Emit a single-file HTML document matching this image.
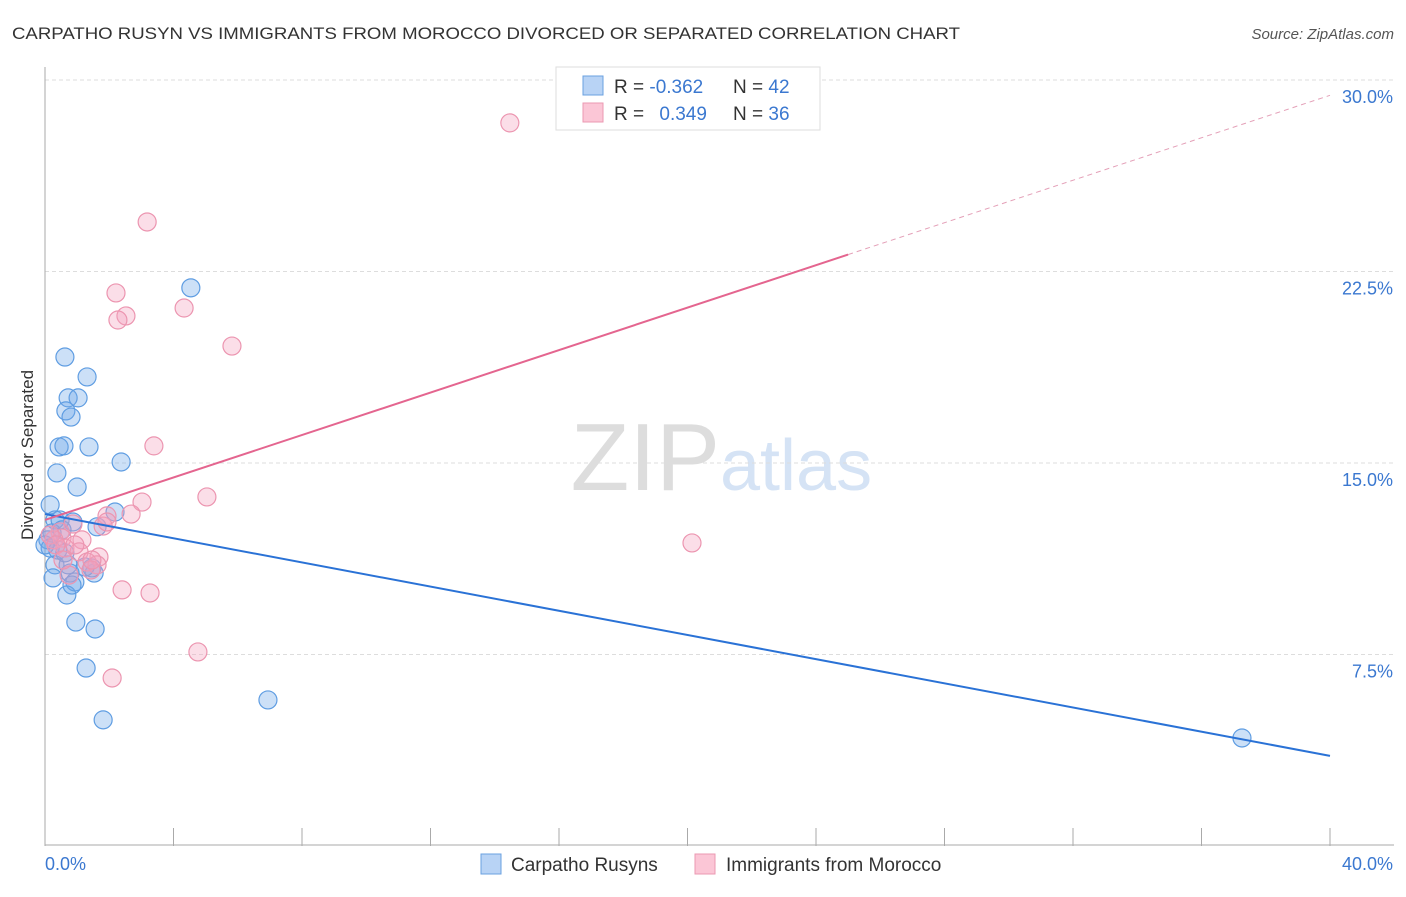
<!DOCTYPE html>
<html><head><meta charset="utf-8"><style>
body{margin:0;background:#fff;font-family:"Liberation Sans",sans-serif}
svg text{font-family:"Liberation Sans",sans-serif}
</style></head><body>
<svg width="1406" height="892" id="chart">
<text x="12" y="39" font-size="17" fill="#333" textLength="948" lengthAdjust="spacingAndGlyphs">CARPATHO RUSYN VS IMMIGRANTS FROM MOROCCO DIVORCED OR SEPARATED CORRELATION CHART</text>
<text x="1394" y="39" font-size="15" fill="#555" text-anchor="end" font-style="italic">Source: ZipAtlas.com</text>
<text x="720" y="490" font-size="96" fill="#ddd" text-anchor="end" font-family="Liberation Serif">ZIP</text>
<text x="720" y="490" font-size="72" fill="#d5e3f5">atlas</text>
<g id="grid"></g>
<g id="axes"></g>
<g id="pts"></g>
<g id="trend"></g>
<text transform="translate(33,455) rotate(-90)" font-size="17" fill="#333" text-anchor="middle">Divorced or Separated</text>
<g>
<rect x="556" y="67" width="264" height="63" fill="#fff" stroke="#ddd"/>
<rect x="583" y="76" width="20" height="19" fill="#b8d3f5" stroke="#6aa0e0"/>
<rect x="583" y="103" width="20" height="19" fill="#fbc6d6" stroke="#eb98b2"/>
<text x="614" y="93" font-size="19" fill="#333">R = <tspan fill="#3b78d0">-0.362</tspan></text>
<text x="733" y="93" font-size="19" fill="#333">N = <tspan fill="#3b78d0">42</tspan></text>
<text x="614" y="120" font-size="19" fill="#333">R = <tspan fill="#3b78d0" dx="10">0.349</tspan></text>
<text x="733" y="120" font-size="19" fill="#333">N = <tspan fill="#3b78d0">36</tspan></text>
</g>
<g>
<rect x="481" y="854" width="20" height="20" fill="#b8d3f5" stroke="#6aa0e0"/>
<text x="511" y="871" font-size="19" fill="#333">Carpatho Rusyns</text>
<rect x="695" y="854" width="20" height="20" fill="#fbc6d6" stroke="#eb98b2"/>
<text x="726" y="871" font-size="19" fill="#333">Immigrants from Morocco</text>
</g>
</svg>
<script>
const yTicks=[7.5,15,22.5,30];
const yTickLabels=["7.5%","15.0%","22.5%","30.0%"];
const xTickLabels=["0.0%","40.0%"];
const blueX=[0.62,1.31,0.72,1.03,0.65,0.81,0.44,0.59,1.37,4.54,0.37,2.37,1.00,0.16,2.18,0.31,0.47,0.87,1.62,0.22,0.09,0.16,0.31,0.25,0.78,0.93,1.53,1.46,0.68,0.96,1.56,1.28,1.81,6.94,37.26,0.53,0.0,0.40,0.72,0.84,1.25,0.62];
const blueY=[19.15,18.37,17.55,17.55,17.04,16.80,15.63,15.67,15.63,21.86,14.61,15.04,14.06,13.36,13.08,12.77,12.77,12.69,12.50,12.26,11.99,11.67,11.01,10.50,10.69,10.34,10.69,10.89,9.83,8.77,8.50,6.97,4.94,5.72,4.23,12.38,11.79,11.59,11.01,10.22,10.93,11.48];
const pinkX=[14.47,3.18,2.21,4.33,2.52,2.27,5.82,3.39,5.04,3.02,2.68,1.93,1.81,0.87,0.47,0.53,0.28,1.15,0.62,1.06,1.68,1.31,1.62,1.43,0.75,2.40,3.27,4.76,2.09,20.14,1.93,0.16,0.34,0.93,1.46,0.56];
const pinkY=[28.32,24.44,21.66,21.07,20.76,20.60,19.58,15.67,13.67,13.47,13.00,12.93,12.53,12.61,12.30,12.06,11.99,11.99,11.67,11.52,11.32,11.12,11.01,10.81,10.61,10.03,9.91,7.60,6.58,11.87,12.69,12.18,11.79,11.79,11.20,11.20];
const blueTrend=[13.0,3.53];
const pinkTrend=[12.77,29.4];
const pinkSolidEnd=25;
const X0=45,X1=1330,Y0=846,Y30=80;
const sx=v=>X0+(X1-X0)*v/40;
const sy=v=>Y0-(Y0-Y30)*v/30;
const NS="http://www.w3.org/2000/svg";
function mk(t,a,p){const e=document.createElementNS(NS,t);for(const k in a)e.setAttribute(k,a[k]);p.appendChild(e);return e;}
const grid=document.getElementById('grid'),axes=document.getElementById('axes'),pts=document.getElementById('pts'),trend=document.getElementById('trend');
yTicks.forEach((t,i)=>{
 const l=mk('line',{x1:X0,x2:1394,y1:sy(t),y2:sy(t),stroke:'#ddd','stroke-dasharray':'4,3'},grid);
 
 
 const tx=mk('text',{x:1393,y:sy(t)+23,'font-size':18,fill:'#3b78d0','text-anchor':'end'},axes);
 tx.textContent=yTickLabels[i];
 
 
});
let ya=mk('line',{x1:X0,x2:X0,y1:67,y2:Y0,stroke:'#aaa'},axes);


let xa=mk('line',{x1:X0,x2:1394,y1:Y0-1,y2:Y0-1,stroke:'#aaa'},axes);


for(let i=0;i<=10;i++){const t=mk('line',{x1:sx(i*4),x2:sx(i*4),y1:Y0,y2:828,stroke:'#aaa'},axes);
 
 }
[[0,'start',45],[40,'end',1393]].forEach((d,i)=>{const t=mk('text',{x:d[2],y:870,'font-size':18,fill:'#3b78d0','text-anchor':d[1]},axes);t.textContent=xTickLabels[i];
 
 });
function dots(xs,ys,fill,stroke,name){xs.forEach((x,i)=>{const c=mk('circle',{cx:sx(x),cy:sy(ys[i]),r:9,fill:fill,stroke:stroke,'stroke-width':1.2},pts);
 
 });}
dots(blueX,blueY,'rgba(110,165,232,0.35)','#5f9de2','carpatho-rusyn-point');
dots(pinkX,pinkY,'rgba(244,160,188,0.35)','#ec95b0','morocco-point');
let bt=mk('line',{x1:sx(0),y1:sy(blueTrend[0]),x2:sx(40),y2:sy(blueTrend[1]),stroke:'#2a72d6','stroke-width':2},trend);


const pm=pinkTrend[0]+(pinkTrend[1]-pinkTrend[0])*pinkSolidEnd/40;
let pt=mk('line',{x1:sx(0),y1:sy(pinkTrend[0]),x2:sx(pinkSolidEnd),y2:sy(pm),stroke:'#e4658f','stroke-width':2},trend);


let pd=mk('line',{x1:sx(pinkSolidEnd),y1:sy(pm),x2:sx(40),y2:sy(pinkTrend[1]),stroke:'#e4a0b8','stroke-width':1,'stroke-dasharray':'5,4'},trend);


</script>
</body></html>
